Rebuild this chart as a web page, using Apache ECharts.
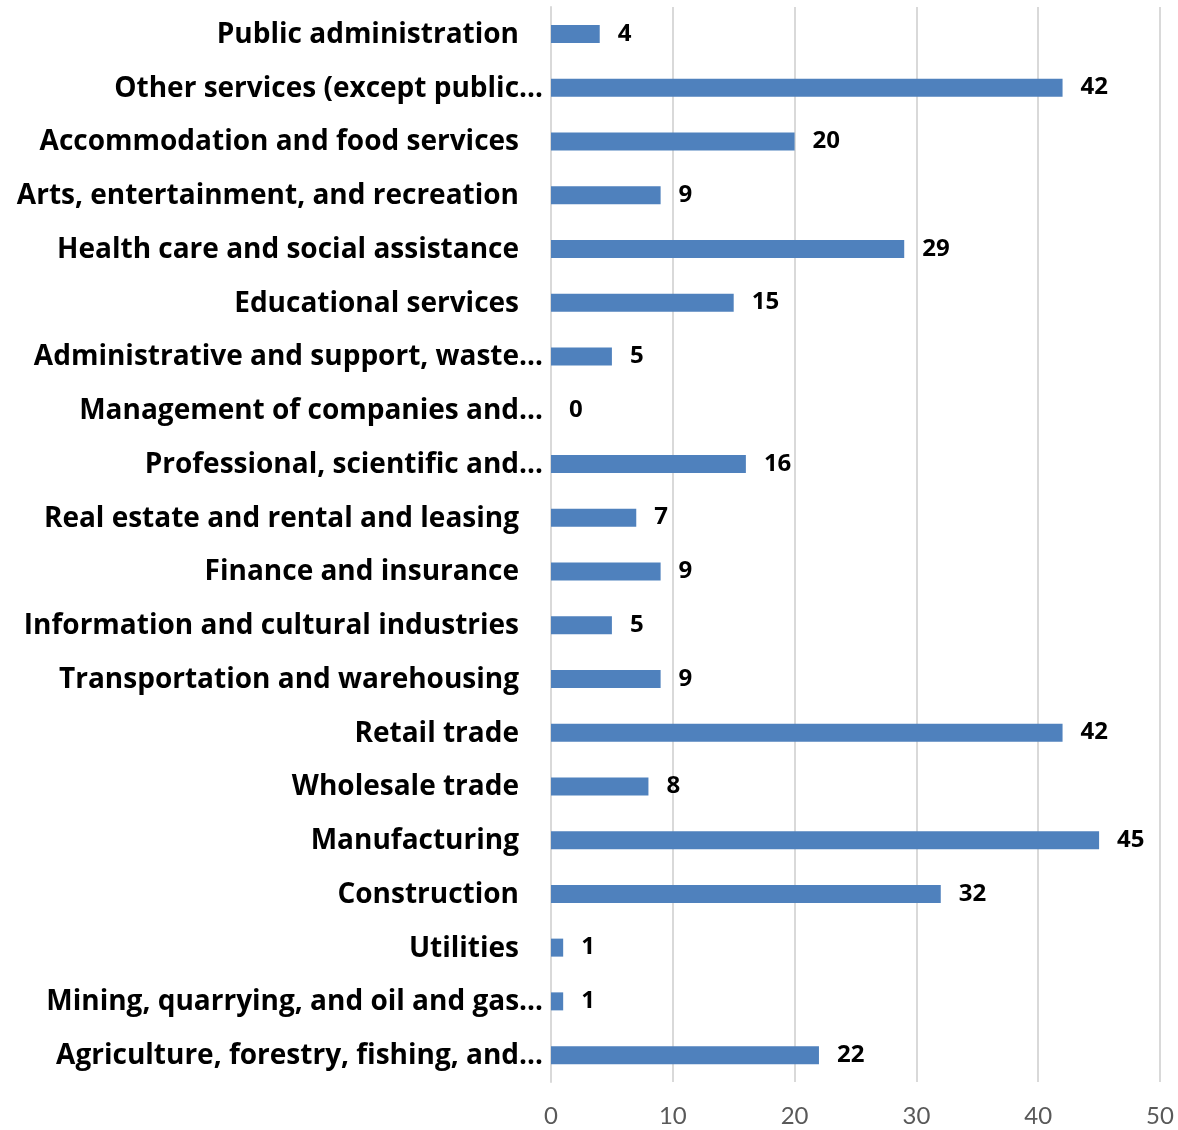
<!DOCTYPE html>
<html>
<head>
<meta charset="utf-8">
<script src="https://cdn.jsdelivr.net/npm/echarts@6/dist/echarts.min.js"></script>
<style>
  html, body { margin: 0; padding: 0; background: #fff; }
  #chart { width: 1178px; height: 1130px; }
</style>
</head>
<body>
<div id="chart"></div>
<script>
// categories bottom -> top, as the y axis draws them
var industries = [
  'Agriculture, forestry, fishing, and…',
  'Mining, quarrying, and oil and gas…',
  'Utilities',
  'Construction',
  'Manufacturing',
  'Wholesale trade',
  'Retail trade',
  'Transportation and warehousing',
  'Information and cultural industries',
  'Finance and insurance',
  'Real estate and rental and leasing',
  'Professional, scientific and…',
  'Management of companies and…',
  'Administrative and support, waste…',
  'Educational services',
  'Health care and social assistance',
  'Arts, entertainment, and recreation',
  'Accommodation and food services',
  'Other services (except public…',
  'Public administration'
];
var counts = [22, 1, 1, 32, 45, 8, 42, 9, 5, 9, 7, 16, 0, 5, 15, 29, 9, 20, 42, 4];
var xTicks = [0, 10, 20, 30, 40, 50];

var chart = echarts.init(document.getElementById('chart'));

var boldFont = 'Open Sans';

var option = {
  animation: false,
  grid: { left: 551, right: 18, top: 7, bottom: 48 },
  xAxis: {
    type: 'value',
    min: xTicks[0],
    max: xTicks[xTicks.length - 1],
    interval: 10,
    axisLine: { show: false },
    axisTick: { show: false },
    splitLine: { lineStyle: { color: '#d9d9d9', width: 2 } },
    axisLabel: { color: '#595959', fontSize: 24, fontFamily: 'Lato', margin: 22 }
  },
  yAxis: {
    type: 'category',
    data: industries,
    axisLine: { lineStyle: { color: '#d9d9d9', width: 2 } },
    axisTick: { show: false },
    axisLabel: {
      margin: 8,
      formatter: function (v) {
        // Excel lets the truncated names run closer to the axis
        return v.indexOf('…') >= 0 ? '{t|' + v + '}' : '{n|' + v + '}';
      },
      rich: {
        t: { color: '#000', fontSize: 28, fontWeight: 'bold', fontFamily: boldFont, padding: [2, 0, 0, 0] },
        n: { color: '#000', fontSize: 28, fontWeight: 'bold', fontFamily: boldFont, padding: [2, 24, 0, 0] }
      }
    }
  },
  series: [{
    type: 'bar',
    data: counts,
    barWidth: 18,
    itemStyle: { color: '#4f81bd' },
    label: {
      show: true,
      position: 'right',
      distance: 18,
      color: '#000',
      fontSize: 24,
      fontWeight: 'bold',
      fontFamily: boldFont,
      padding: [2, 0, 0, 0]
    }
  }]
};
chart.setOption(option);
</script>
</body>
</html>
